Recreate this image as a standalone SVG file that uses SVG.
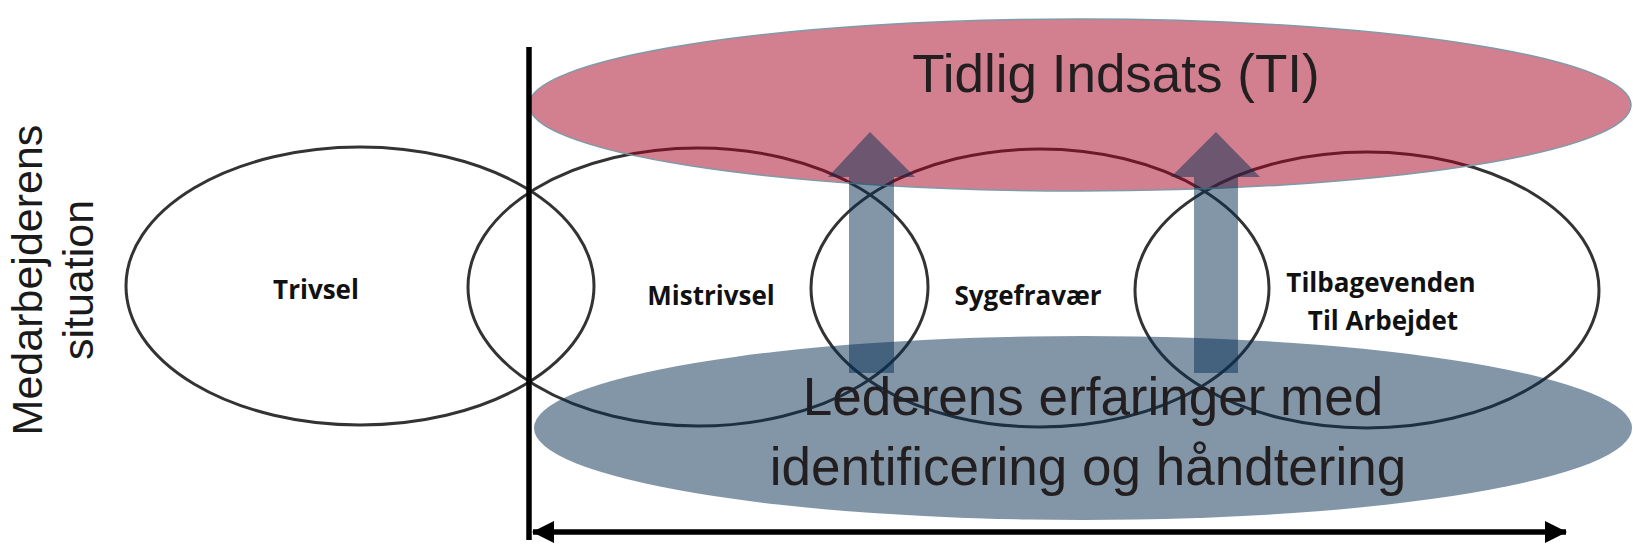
<svg xmlns="http://www.w3.org/2000/svg" width="1633" height="545" viewBox="0 0 1633 545">
<style>
.stage{fill:none;stroke:#333;stroke-width:3}
.lbl{font-family:"Open Sans","Liberation Sans",sans-serif;font-weight:bold;font-size:26px;fill:#111;text-anchor:middle}
.big{font-family:"Liberation Sans",Arial,sans-serif;font-size:53px;fill:#231f20;text-anchor:middle}
.axis{stroke:#000;stroke-width:5.5;fill:none}
.uparrow{fill:#052d51;fill-opacity:0.5}
</style>
<defs>
<marker id="ah" viewBox="0 0 22 22" refX="21" refY="11" markerWidth="22" markerHeight="22" markerUnits="userSpaceOnUse" orient="auto-start-reverse">
<path d="M0,0 L22,11 L0,22 Z" fill="#000"/>
</marker>
</defs>
<rect width="1633" height="545" fill="#fff"/>
<g id="side-label">
<text class="big" style="font-size:43px;fill:#1a1a1a" transform="translate(42,280) rotate(-90)"><tspan x="0" y="0">Medarbejderens</tspan><tspan x="0" y="51">situation</tspan></text>
</g>
<g id="trivsel"><ellipse class="stage" cx="360" cy="286" rx="234" ry="139"/><text class="lbl" x="316" y="299">Trivsel</text></g>
<g id="mistrivsel"><ellipse class="stage" cx="698" cy="287" rx="230" ry="139"/><text class="lbl" x="711" y="305">Mistrivsel</text></g>
<g id="sygefravaer"><ellipse class="stage" cx="1040" cy="288" rx="229" ry="139"/><text class="lbl" x="1028" y="305">Sygefravær</text></g>
<g id="tilbagevenden"><ellipse class="stage" cx="1367" cy="290" rx="232" ry="138"/><text class="lbl" x="1381" y="292">Tilbagevenden</text><text class="lbl" x="1383" y="330">Til Arbejdet</text></g>
<g id="tidlig-indsats"><ellipse cx="1080" cy="105" rx="551" ry="86" fill="#a5001f" fill-opacity="0.5" stroke="#7f9aa8" stroke-width="1.5"/><text class="big" x="1116" y="92">Tidlig Indsats (TI)</text></g>
<g id="lederens-erfaringer"><ellipse cx="1083" cy="428" rx="549" ry="92" fill="#052d51" fill-opacity="0.5"/><text class="big" x="1093" y="415">Lederens erfaringer med</text><text class="big" x="1088" y="485">identificering og håndtering</text></g>
<g id="connectors">
<polygon class="uparrow" points="849,373 849,177 828,177 870,132 915,177 894,177 894,373"/>
<polygon class="uparrow" points="1194,373 1194,177 1171,177 1216,132 1260,177 1238,177 1238,373"/>
<line class="axis" x1="529" y1="47" x2="529" y2="540"/>
<line class="axis" x1="533" y1="532" x2="1566" y2="532" marker-start="url(#ah)" marker-end="url(#ah)"/>
</g>
</svg>
